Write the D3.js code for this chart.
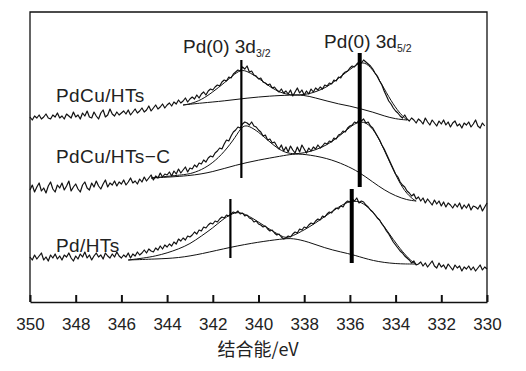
<!DOCTYPE html>
<html>
<head>
<meta charset="utf-8">
<script src="https://cdn.jsdelivr.net/npm/d3@7"></script>
<style>
body { margin: 0; background: #fff; }
text { font-family: "Liberation Sans", Arial, sans-serif; fill: #222; }
</style>
</head>
<body>
<div id="vis"></div>
<script>
// tick labels of the binding energy axis
const ticks = [350, 348, 346, 344, 342, 340, 338, 336, 334, 332, 330];

// spectra are sampled every 0.1 eV starting from 350 eV
const step = 0.1;

// raw spectra (arbitrary intensity)
const pdcuHts = [185, 182, 186, 184, 187, 183, 185, 188, 184, 183, 187,
  185, 189, 184, 186, 183, 188, 186, 184, 190, 185,
  187, 183, 189, 186, 191, 185, 184, 190, 186, 183,
  189, 192, 185, 187, 193, 188, 186, 190, 187, 189,
  191, 188, 192, 187, 190, 193, 189, 191, 194, 190,
  192, 196, 191, 194, 197, 193, 195, 198, 194, 197,
  199, 196, 200, 198, 202, 199, 201, 204, 200, 203,
  205, 203, 207, 204, 208, 210, 207, 211, 213, 212,
  215, 217, 216, 220, 222, 221, 225, 224, 228, 230,
  232, 231, 235, 233, 236, 230, 231, 227, 226, 223,
  224, 220, 219, 217, 218, 214, 215, 212, 210, 213,
  209, 211, 208, 212, 206, 210, 214, 209, 212, 207,
  211, 208, 213, 210, 214, 212, 215, 213, 217, 216,
  219, 218, 222, 221, 225, 224, 228, 230, 231, 234,
  236, 235, 238, 240, 239, 242, 240, 238, 236, 233,
  229, 226, 221, 217, 211, 206, 201, 198, 194, 191,
  189, 186, 184, 187, 183, 181, 184, 182, 179, 183,
  181, 178, 184, 180, 177, 182, 179, 176, 181, 178,
  182, 177, 180, 175, 179, 181, 176, 178, 174, 179,
  177, 180, 175, 178, 182, 176, 174, 179, 176];

const pdcuHtsC = [112, 117, 110, 115, 119, 111, 114, 109, 116, 120, 113,
  110, 117, 114, 119, 112, 116, 121, 111, 115, 118,
  113, 110, 117, 120, 114, 112, 119, 115, 121, 116,
  113, 118, 122, 115, 119, 117, 121, 116, 120, 118,
  122, 117, 120, 124, 119, 121, 118, 123, 120, 125,
  121, 124, 127, 122, 126, 124, 129, 125, 128, 127,
  130, 126, 131, 128, 133, 129, 132, 135, 130, 134,
  133, 137, 135, 139, 138, 142, 140, 144, 146, 145,
  149, 151, 154, 153, 158, 162, 161, 166, 170, 172,
  175, 174, 178, 180, 179, 177, 180, 176, 175, 172,
  170, 166, 167, 162, 163, 159, 160, 156, 153, 157,
  151, 155, 150, 156, 152, 149, 155, 150, 157, 153,
  149, 154, 151, 155, 153, 157, 154, 156, 159, 158,
  161, 160, 164, 163, 167, 168, 171, 170, 174, 176,
  177, 180, 179, 182, 181, 183, 179, 180, 176, 174,
  170, 166, 162, 157, 153, 148, 143, 138, 133, 128,
  125, 120, 117, 115, 111, 109, 106, 108, 103, 105,
  101, 104, 99, 103, 100, 97, 102, 98, 101, 96,
  100, 95, 99, 97, 94, 98, 95, 99, 93, 97,
  94, 98, 92, 96, 95, 93, 97, 91, 95, 99];

const pdHts = [45, 42, 47, 43, 46, 49, 42, 45, 41, 47, 44,
  48, 43, 46, 42, 47, 45, 49, 44, 41, 46,
  43, 48, 45, 50, 44, 47, 42, 46, 49, 45,
  47, 43, 49, 46, 44, 48, 45, 50, 46, 44,
  47, 45, 49, 44, 48, 46, 50, 47, 49, 52,
  49, 53, 51, 50, 54, 52, 56, 53, 57, 55,
  58, 56, 60, 58, 63, 61, 64, 62, 66, 65,
  67, 70, 68, 72, 71, 75, 74, 77, 79, 78,
  81, 80, 83, 85, 84, 87, 86, 88, 90, 89,
  91, 88, 89, 86, 87, 84, 83, 80, 81, 78,
  77, 75, 76, 73, 71, 72, 69, 67, 68, 65,
  63, 64, 66, 65, 68, 70, 69, 73, 72, 75,
  74, 77, 79, 78, 81, 83, 82, 86, 85, 88,
  90, 89, 92, 94, 93, 96, 95, 99, 101, 100,
  103, 101, 104, 99, 101, 100, 97, 95, 92, 90,
  87, 84, 82, 78, 75, 71, 68, 64, 60, 57,
  54, 51, 49, 46, 44, 42, 39, 41, 37, 38,
  40, 36, 39, 35, 38, 41, 36, 34, 39, 35,
  37, 33, 38, 35, 32, 37, 34, 36, 31, 35,
  33, 36, 32, 35, 31, 34, 37, 32, 35, 33];

// fitted envelopes and backgrounds, [eV, intensity]
const pdcuHtsFit = [[343.3, 197], [343, 198], [342.5, 202], [342, 210], [341.5, 219], [341, 229],
  [340.75, 232], [340.5, 231], [340, 224], [339.5, 215], [339, 209], [338.6, 207], [338.2, 207],
  [337.8, 208], [337.4, 211], [337, 215], [336.6, 222], [336.2, 229], [335.8, 236], [335.5, 240],
  [335.2, 238], [334.8, 226], [334.4, 209], [334, 194], [333.7, 186], [333.5, 182]];
const pdcuHtsBg = [[343.3, 197], [342.5, 199], [341.5, 201], [340.5, 204], [339.5, 206], [338.6, 207],
  [338, 207], [337.5, 204], [337, 201], [336.5, 198], [336, 196], [335.5, 193], [335, 190],
  [334.5, 186], [334, 183], [333.5, 182]];

const pdcuHtsCFit = [[344.7, 124], [343.4, 127], [343, 128], [342.5, 132], [342, 139], [341.5, 150],
  [341, 165], [340.7, 177], [340.4, 176], [340, 170], [339.6, 162], [339.2, 154], [338.8, 149],
  [338.4, 148], [338, 149], [337.5, 152], [337, 157], [336.5, 165], [336, 175], [335.6, 181],
  [335.2, 179], [334.8, 167], [334.4, 147], [334, 127], [333.6, 110], [333.2, 102], [333.1, 101]];
const pdcuHtsCBg = [[344.7, 124], [343, 126], [342, 130], [341, 137], [340, 142], [339, 146],
  [338.5, 148], [338, 148], [337, 144], [336.2, 137], [335.6, 130], [335, 120], [334.5, 112],
  [334, 106], [333.5, 102], [333.1, 101]];

const pdHtsFit = [[345.7, 42], [345, 44], [344.5, 46], [344, 49], [343.5, 53], [343, 58], [342.5, 66],
  [342, 74], [341.6, 82], [341.2, 88], [340.9, 90], [340.6, 88], [340.2, 83], [339.8, 77],
  [339.4, 71], [339, 66], [338.8, 64], [338.5, 66], [338, 72], [337.5, 79], [337, 87], [336.5, 95],
  [336.1, 100], [335.8, 101], [335.5, 100], [335.1, 93], [334.7, 82], [334.3, 69], [333.9, 56],
  [333.5, 45], [333.2, 39], [333.1, 38]];
const pdHtsBg = [[345.7, 42], [344.5, 43], [343.5, 44], [342.5, 48], [341.2, 55], [340, 60],
  [339, 63], [338.5, 64], [337.8, 60], [337.1, 54], [336.4, 50], [335.8, 47], [335, 41],
  [334, 38], [333.1, 38]];

// peak position marks: eV, top and bottom intensity
const markE = [340.75, 335.57, 341.23, 335.92];
const markTop = [242, 249, 103, 113];
const markBottom = [124, 115, 44, 39];

const svg = d3.select('#vis')
  .append('svg')
  .attr('width', 526)
  .attr('height', 371);

const x = d3.scaleLinear().domain([350, 330]).range([30, 487]);
const y = d3.scaleLinear().domain([0, 290]).range([302, 12]);

// frame
svg.append('path')
  .attr('d', 'M30,302V12H487V302')
  .attr('fill', 'none')
  .attr('stroke', '#111')
  .attr('stroke-width', 1.3);

// x axis with ticks pointing inwards
const axis = svg.append('g')
  .attr('transform', 'translate(0,302)')
  .call(d3.axisBottom(x).tickValues(ticks).tickSize(-7).tickSizeOuter(0).tickPadding(16));
axis.select('.domain').attr('stroke', '#111').attr('stroke-width', 1.5);
axis.selectAll('.tick line').attr('stroke', '#111').attr('stroke-width', 2);
axis.selectAll('.tick text')
  .attr('font-size', '17px')
  .attr('font-family', '"Liberation Sans", Arial, sans-serif')
  .attr('fill', '#222');

svg.append('text')
  .attr('x', 258)
  .attr('y', 356)
  .attr('text-anchor', 'middle')
  .attr('font-size', '18px')
  .style('font-family', '"Noto Sans CJK SC", "Liberation Sans", sans-serif')
  .text('结合能/eV');

// raw spectra
const rawLine = d3.line()
  .x((d, i) => x(350 - i * step))
  .y(d => y(d));

svg.selectAll('.raw')
  .data([pdcuHts, pdcuHtsC, pdHts])
  .enter()
  .append('path')
  .attr('class', 'raw')
  .attr('d', rawLine)
  .attr('fill', 'none')
  .attr('stroke', '#111')
  .attr('stroke-width', 1.2)
  .attr('stroke-linejoin', 'round');

// fitted curves
const fitLine = d3.line()
  .x(d => x(d[0]))
  .y(d => y(d[1]))
  .curve(d3.curveBasis);

svg.selectAll('.fit')
  .data([pdcuHtsFit, pdcuHtsBg, pdcuHtsCFit, pdcuHtsCBg, pdHtsFit, pdHtsBg])
  .enter()
  .append('path')
  .attr('class', 'fit')
  .attr('d', fitLine)
  .attr('fill', 'none')
  .attr('stroke', '#111')
  .attr('stroke-width', 1);

// peak marks, 3d5/2 drawn thicker
svg.selectAll('.mark')
  .data(markE)
  .enter()
  .append('line')
  .attr('class', 'mark')
  .attr('x1', d => x(d))
  .attr('x2', d => x(d))
  .attr('y1', (d, i) => y(markTop[i]))
  .attr('y2', (d, i) => y(markBottom[i]))
  .attr('stroke', '#000')
  .attr('stroke-width', (d, i) => i % 2 ? 4 : 2.2);

// sample names
svg.selectAll('.name')
  .data(['PdCu/HTs', 'PdCu/HTs\u2212C', 'Pd/HTs'])
  .enter()
  .append('text')
  .attr('class', 'name')
  .attr('x', 56)
  .attr('y', (d, i) => [102, 163, 252][i])
  .attr('font-size', '19px')
  .attr('letter-spacing', '0.4px')
  .text(d => d);

// peak labels with subscripts
function peakLabel(px, py, sub) {
  const t = svg.append('text')
    .attr('x', px)
    .attr('y', py)
    .attr('font-size', '19px');
  t.append('tspan').text('Pd(0) 3d');
  t.append('tspan')
    .attr('font-size', '10.5px')
    .attr('dy', 4)
    .text(sub);
}
peakLabel(183, 53, '3/2');
peakLabel(324, 48, '5/2');
</script>
</body>
</html>
